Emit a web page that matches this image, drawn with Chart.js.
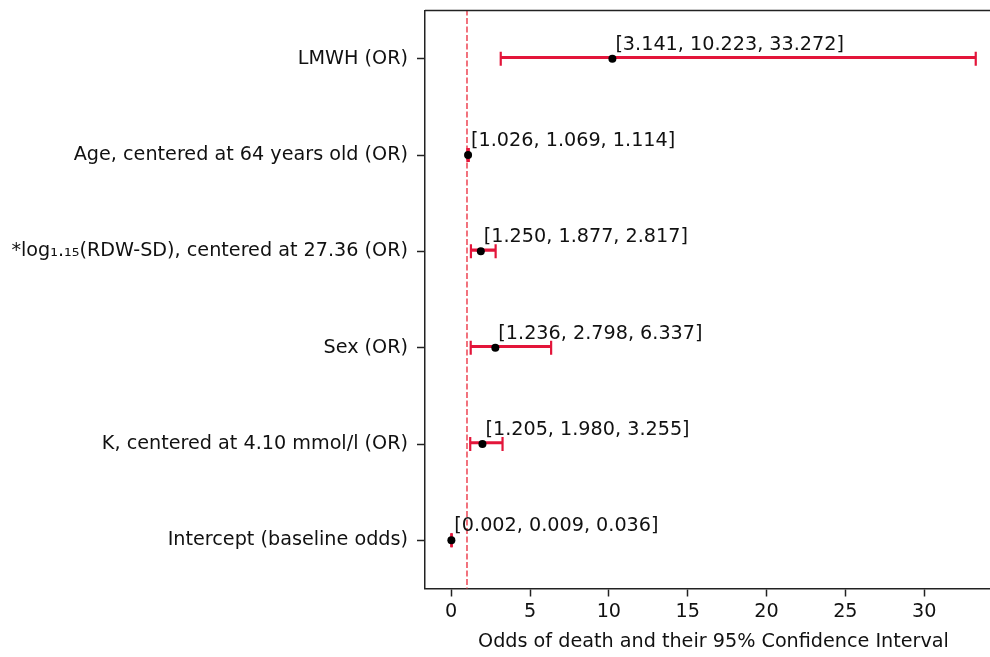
<!DOCTYPE html>
<html>
<head>
<meta charset="utf-8">
<title>Odds of death – forest plot</title>
<script src="https://cdn.jsdelivr.net/npm/chart.js@4.4.1/dist/chart.umd.min.js"></script>
<style>
  html, body { margin: 0; padding: 0; background: #fff; width: 990px; height: 657px; overflow: hidden; }
  #wrap { position: absolute; left: 0; top: 0; width: 1012px; height: 657px; }
</style>
</head>
<body>
<div id="wrap"><canvas id="forest"></canvas></div>
<script>
// Model terms, top to bottom
const categories = [
  'LMWH (OR)',
  'Age, centered at 64 years old (OR)',
  '*log\u2081.\u2081\u2085(RDW-SD), centered at 27.36 (OR)',
  'Sex (OR)',
  'K, centered at 4.10 mmol/l (OR)',
  'Intercept (baseline odds)'
];
// 95% CI lower bound, point estimate, upper bound
const lower    = [3.141, 1.026, 1.250, 1.236, 1.205, 0.002];
const estimate = [10.223, 1.069, 1.877, 2.798, 1.980, 0.009];
const upper    = [33.272, 1.114, 2.817, 6.337, 3.255, 0.036];
// Null-effect reference (OR = 1)
const referenceOdds = [1];
// x axis range and tick spacing
const xRange = [-1.6635, 34.9375];
const xTickStep = 5;

const FONT = 'DejaVu Sans';
const FONT_SIZE = 19.2;
const INK = '#111';
const CI_RED = '#e3153a';
const REF_RED = 'rgba(236, 60, 75, 0.85)';

Chart.defaults.font.family = FONT;
Chart.defaults.font.size = FONT_SIZE;
Chart.defaults.color = INK;

// Top and right edges of the plotting frame
const framePlugin = {
  id: 'frame',
  afterDatasetsDraw(chart) {
    const { ctx, chartArea: a } = chart;
    ctx.save();
    ctx.strokeStyle = '#222';
    ctx.lineWidth = 1.5;
    ctx.beginPath();
    ctx.moveTo(a.left, a.top);
    ctx.lineTo(a.right, a.top);
    ctx.lineTo(a.right, a.bottom);
    ctx.stroke();
    ctx.restore();
  }
};

// "[lower, estimate, upper]" text above each estimate point
const ciTextPlugin = {
  id: 'ciText',
  afterDatasetsDraw(chart) {
    const idx = chart.data.datasets.findIndex(d => d.label === 'estimate');
    const meta = chart.getDatasetMeta(idx);
    const { ctx } = chart;
    ctx.save();
    ctx.font = FONT_SIZE + 'px "' + FONT + '"';
    ctx.fillStyle = INK;
    ctx.textAlign = 'left';
    ctx.textBaseline = 'alphabetic';
    meta.data.forEach((pt, i) => {
      const txt = '[' + lower[i].toFixed(3) + ', ' + estimate[i].toFixed(3) + ', ' + upper[i].toFixed(3) + ']';
      ctx.fillText(txt, pt.x + 3, pt.y - 9);
    });
    ctx.restore();
  }
};

new Chart(document.getElementById('forest'), {
  type: 'bar',
  data: {
    labels: categories,
    datasets: [
      {
        label: 'ci',
        type: 'bar',
        data: lower.map((lo, i) => [lo, upper[i]]),
        backgroundColor: CI_RED,
        borderWidth: 0,
        barThickness: 2.4,
        xAxisID: 'x',
        yAxisID: 'y',
        order: 3
      },
      {
        label: 'lowerCap',
        type: 'line',
        data: lower,
        showLine: false,
        pointStyle: 'line',
        pointRotation: 90,
        pointRadius: 7,
        pointBorderColor: CI_RED,
        pointBorderWidth: 2.2,
        xAxisID: 'x',
        yAxisID: 'y',
        order: 2
      },
      {
        label: 'upperCap',
        type: 'line',
        data: upper,
        showLine: false,
        pointStyle: 'line',
        pointRotation: 90,
        pointRadius: 7,
        pointBorderColor: CI_RED,
        pointBorderWidth: 2.2,
        xAxisID: 'x',
        yAxisID: 'y',
        order: 2
      },
      {
        label: 'estimate',
        type: 'line',
        data: estimate,
        showLine: false,
        pointStyle: 'circle',
        pointRadius: 4,
        pointBackgroundColor: '#000',
        pointBorderColor: '#000',
        pointBorderWidth: 0,
        xAxisID: 'x',
        yAxisID: 'y',
        order: 0
      },
      {
        label: 'reference',
        type: 'line',
        indexAxis: 'x',
        data: [{ x: referenceOdds[0], y: -0.2 }, { x: referenceOdds[0], y: 1.2 }],
        borderColor: REF_RED,
        borderWidth: 1.7,
        borderDash: [6, 2.5],
        pointRadius: 0,
        clip: 0,
        xAxisID: 'x',
        yAxisID: 'yRef',
        order: 4
      }
    ]
  },
  options: {
    indexAxis: 'y',
    responsive: true,
    maintainAspectRatio: false,
    animation: false,
    events: [],
    layout: { padding: { top: 10.5, right: 10, bottom: 0, left: 0 } },
    plugins: {
      legend: { display: false },
      tooltip: { enabled: false }
    },
    scales: {
      x: {
        type: 'linear',
        position: 'bottom',
        min: xRange[0],
        max: xRange[1],
        border: { display: true, color: '#222', width: 1.5 },
        grid: { display: true, drawOnChartArea: false, drawTicks: true, tickLength: 8, tickColor: '#222', tickWidth: 1.5 },
        ticks: {
          stepSize: xTickStep,
          includeBounds: false,
          padding: 4,
          color: INK,
          font: { size: FONT_SIZE },
          callback: v => String(v)
        },
        title: {
          display: true,
          text: 'Odds of death and their 95% Confidence Interval',
          color: INK,
          font: { size: FONT_SIZE },
          padding: { top: 9, bottom: 3 }
        },
        afterFit(scale) {
          scale.height = 68.5;
          scale.paddingLeft = 0;
          scale.paddingRight = 0;
        }
      },
      y: {
        type: 'category',
        position: 'left',
        offset: true,
        border: { display: true, color: '#222', width: 1.5 },
        grid: { display: true, offset: false, drawOnChartArea: false, drawTicks: true, tickLength: 8, tickColor: '#222', tickWidth: 1.5 },
        ticks: { padding: 9, color: INK, font: { size: FONT_SIZE }, autoSkip: false },
        afterFit(scale) {
          scale.width = 425;
          scale.paddingTop = 0;
          scale.paddingBottom = 0;
        }
      },
      yRef: {
        type: 'linear',
        display: false,
        offset: false,
        grace: 0,
        min: 0,
        max: 1
      }
    }
  },
  plugins: [framePlugin, ciTextPlugin]
});
</script>
</body>
</html>
